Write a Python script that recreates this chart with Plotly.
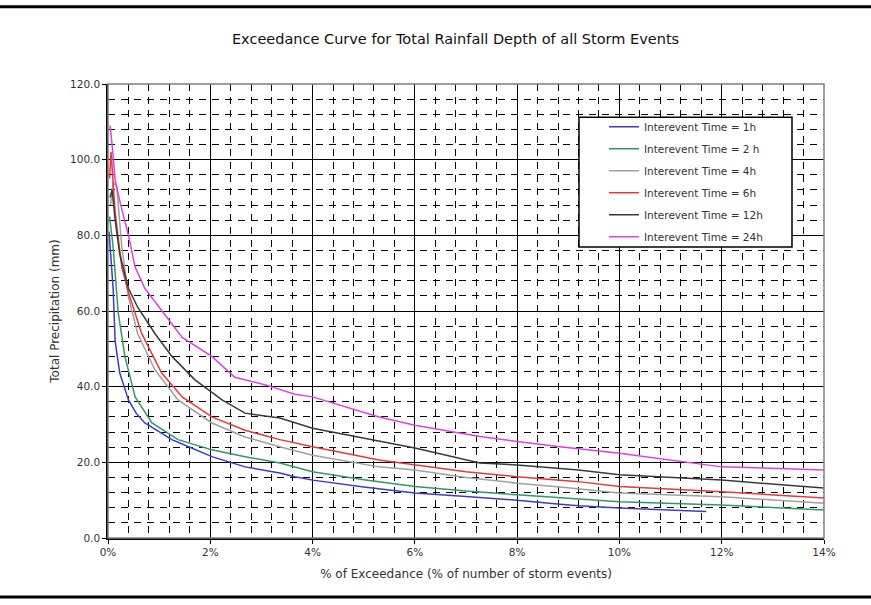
import plotly.graph_objects as go

title = "Exceedance Curve for Total Rainfall Depth of all Storm Events"
x_title = "% of Exceedance (% of number of storm events)"
y_title = "Total Precipitation (mm)"

names = ["Interevent Time = 1h", "Interevent Time = 2 h", "Interevent Time = 4h",
         "Interevent Time = 6h", "Interevent Time = 12h", "Interevent Time = 24h"]
colors = ["#3B3BD0", "#2E9A6A", "#A0A0A0", "#E8383D", "#3A3A3A", "#E040E0"]

x_1h = [0.02, 0.05, 0.1, 0.14, 0.23, 0.4, 0.55, 0.72, 1.0, 1.25, 1.6, 2.03, 2.68, 3.36, 3.65, 4.0, 5.0, 6.0, 7.0, 8.0, 8.84, 9.2, 10.0, 11.0, 11.7]
y_1h = [81, 75, 66, 52, 43.6, 36.5, 33, 30.4, 28, 26, 24, 21.5, 18.8, 17.2, 16.2, 15.3, 13.5, 11.9, 11, 10, 8.9, 8.5, 7.9, 7.4, 7.0]

x_2h = [0.03, 0.1, 0.2, 0.33, 0.53, 0.86, 1.37, 2.03, 2.68, 3.36, 4.0, 5.0, 6.0, 7.0, 8.0, 8.84, 10.0, 12.0, 14.0]
y_2h = [85, 77, 59.5, 48, 37.3, 30.4, 26, 23.3, 21.5, 19.8, 17.5, 15.4, 13.6, 12.4, 11.4, 10.6, 9.6, 8.7, 7.4]

x_4h = [0.05, 0.1, 0.17, 0.27, 0.4, 0.58, 0.92, 1.37, 2.03, 2.68, 3.36, 4.0, 5.3, 6.0, 7.0, 8.0, 8.84, 10.0, 12.0, 14.0]
y_4h = [88, 94, 93, 77, 63.7, 54, 44.4, 36.5, 30.4, 26.7, 24.1, 21.9, 18.8, 18, 16, 14.5, 13.5, 11.9, 10.9, 9.2]

x_6h = [0.03, 0.06, 0.14, 0.27, 0.4, 0.66, 1.05, 1.45, 2.03, 2.68, 3.36, 4.0, 5.3, 6.0, 7.0, 8.0, 9.2, 10.0, 12.0, 14.0]
y_6h = [95, 102, 86, 71.6, 64.8, 54, 43.6, 37.3, 32, 28.5, 26, 24.1, 20.6, 19.3, 17.5, 16.2, 14.9, 13.6, 12.2, 10.6]

x_12h = [0.04, 0.08, 0.14, 0.23, 0.4, 0.58, 0.92, 1.25, 1.7, 2.23, 2.68, 3.36, 4.0, 5.3, 6.0, 7.27, 8.0, 9.2, 10.0, 12.0, 14.0]
y_12h = [90, 92, 84, 75, 66, 61, 54, 48, 41.8, 36.5, 33, 31.7, 29, 25.5, 23.8, 19.8, 19.3, 18, 16.7, 15.3, 13.2]

x_24h = [0.04, 0.08, 0.14, 0.25, 0.4, 0.53, 0.72, 1.05, 1.45, 2.03, 2.48, 3.1, 3.65, 4.0, 5.3, 6.0, 7.27, 8.0, 8.84, 10.0, 12.0, 14.0]
y_24h = [109, 104, 94.6, 88, 80, 71.6, 66, 60, 53, 48, 42.5, 40.4, 38, 37.3, 32, 29.8, 26.8, 25.5, 24.1, 22.4, 18.8, 18]

x_ticks = [0, 2, 4, 6, 8, 10, 12, 14]
y_ticks = [0, 20, 40, 60, 80, 100, 120]

series = [(x_1h, y_1h), (x_2h, y_2h), (x_4h, y_4h), (x_6h, y_6h), (x_12h, y_12h), (x_24h, y_24h)]

fig = go.Figure()
for i, ((xs, ys), nm, col) in enumerate(zip(series, names, colors)):
    fig.add_trace(go.Scatter(x=xs, y=ys, mode="lines", name=nm, legendgroup=str(i),
                             line=dict(color=col, width=1.5)))

font = "DejaVu Sans, sans-serif"
dash = "7px,6px"
fig.update_layout(
    width=871, height=605,
    paper_bgcolor="white", plot_bgcolor="white",
    margin=dict(l=108, r=47, t=84, b=67),
    font=dict(family=font, size=10.5, color="#333"),
    title=dict(text=title, x=0.523, xanchor="center", y=0.935, yanchor="middle",
               font=dict(family=font, size=14.5, color="#111")),
    showlegend=True,
    legend=dict(x=0.6927, y=0.938, xanchor="left", yanchor="top",
                bgcolor="rgba(0,0,0,0)", borderwidth=0,
                font=dict(family=font, size=10.5, color="#333"),
                tracegroupgap=3, itemwidth=30),
    xaxis=dict(range=[0, 14], tickvals=x_ticks, ticktext=[f"{v}%" for v in x_ticks],
               showgrid=True, gridcolor="black", gridwidth=1.3,
               minor=dict(dtick=0.4, showgrid=True, gridcolor="black", griddash=dash, gridwidth=1.2),
               showline=True, linecolor="black", linewidth=1.5,
               ticks="outside", ticklen=4, tickcolor="black",
               tickfont=dict(size=10.5),
               title=dict(text=x_title, standoff=12, font=dict(family=font, size=12)),
               zeroline=False),
    yaxis=dict(range=[0, 120], tickvals=y_ticks, ticktext=[f"{v:.1f}" for v in y_ticks],
               showgrid=True, gridcolor="black", gridwidth=1.3,
               minor=dict(dtick=4, showgrid=True, gridcolor="black", griddash=dash, gridwidth=1.2),
               showline=True, linecolor="black", linewidth=1.5,
               ticks="outside", ticklen=4, tickcolor="black",
               tickfont=dict(size=10.5),
               title=dict(text=y_title, standoff=8, font=dict(family=font, size=12)),
               zeroline=False),
)

# plot area border (top/right gray)
fig.add_shape(type="rect", xref="x domain", yref="y domain", x0=0, y0=0, x1=1, y1=1,
              line=dict(color="#808080", width=1.5), layer="above")
# legend box
fig.add_shape(type="rect", xref="paper", yref="paper", x0=0.6578, x1=0.9553, y0=0.641, y1=0.927,
              line=dict(color="black", width=1.5), fillcolor="white", layer="above")
# outer chart frame
fig.add_shape(type="rect", xref="paper", yref="paper", x0=-0.2, y0=-0.13, x1=1.13, y1=1.17,
              line=dict(color="black", width=3), layer="above")

fig.write_html("out.html")
